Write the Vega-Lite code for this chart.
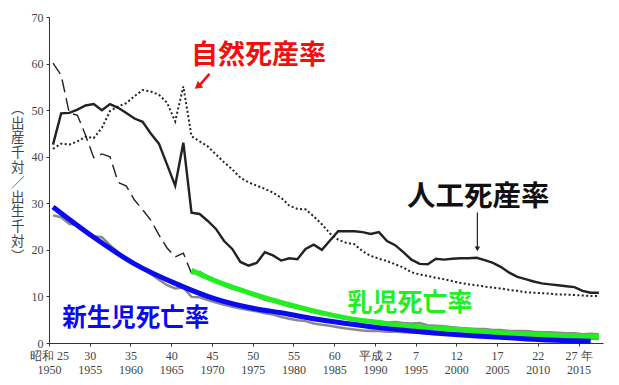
{
  "$schema": "https://vega.github.io/schema/vega-lite/v6.json",
  "width": 554,
  "height": 326,
  "autosize": {"type": "none"},
  "padding": {"left": 49, "top": 17, "right": 16, "bottom": 42},
  "background": "white",
  "config": {
    "view": {"stroke": null},
    "axis": {"grid": false, "labelFont": "Liberation Serif", "labelColor": "#444", "domainColor": "#333", "tickColor": "#333", "tickSize": 3, "domainWidth": 1, "tickWidth": 1}
  },
  "datasets": {
    "rates": [
      {"s": "natural", "year": 1950, "v": 41.7}, {"s": "natural", "year": 1951, "v": 42.8}, {"s": "natural", "year": 1952, "v": 42.6}, {"s": "natural", "year": 1953, "v": 43.3}, {"s": "natural", "year": 1954, "v": 44.3}, {"s": "natural", "year": 1955, "v": 44.0}, {"s": "natural", "year": 1956, "v": 46.2}, {"s": "natural", "year": 1957, "v": 49.8}, {"s": "natural", "year": 1958, "v": 50.8}, {"s": "natural", "year": 1959, "v": 51.5}, {"s": "natural", "year": 1960, "v": 53.0}, {"s": "natural", "year": 1961, "v": 54.3}, {"s": "natural", "year": 1962, "v": 54.0}, {"s": "natural", "year": 1963, "v": 53.3}, {"s": "natural", "year": 1964, "v": 51.6}, {"s": "natural", "year": 1965, "v": 47.6}, {"s": "natural", "year": 1966, "v": 55.1}, {"s": "natural", "year": 1967, "v": 44.4}, {"s": "natural", "year": 1968, "v": 43.3}, {"s": "natural", "year": 1969, "v": 42.2}, {"s": "natural", "year": 1970, "v": 40.5}, {"s": "natural", "year": 1971, "v": 38.8}, {"s": "natural", "year": 1972, "v": 37.3}, {"s": "natural", "year": 1973, "v": 35.5}, {"s": "natural", "year": 1974, "v": 34.5}, {"s": "natural", "year": 1975, "v": 33.8}, {"s": "natural", "year": 1976, "v": 33.1}, {"s": "natural", "year": 1977, "v": 32.3}, {"s": "natural", "year": 1978, "v": 31.2}, {"s": "natural", "year": 1979, "v": 29.5}, {"s": "natural", "year": 1980, "v": 28.8}, {"s": "natural", "year": 1981, "v": 28.7}, {"s": "natural", "year": 1982, "v": 27.2}, {"s": "natural", "year": 1983, "v": 25.5}, {"s": "natural", "year": 1984, "v": 23.5}, {"s": "natural", "year": 1985, "v": 22.2}, {"s": "natural", "year": 1986, "v": 21.5}, {"s": "natural", "year": 1987, "v": 21.2}, {"s": "natural", "year": 1988, "v": 19.7}, {"s": "natural", "year": 1989, "v": 18.7}, {"s": "natural", "year": 1990, "v": 18.1}, {"s": "natural", "year": 1991, "v": 17.6}, {"s": "natural", "year": 1992, "v": 16.9}, {"s": "natural", "year": 1993, "v": 16.2}, {"s": "natural", "year": 1994, "v": 15.2}, {"s": "natural", "year": 1995, "v": 14.7}, {"s": "natural", "year": 1996, "v": 14.4}, {"s": "natural", "year": 1997, "v": 14.0}, {"s": "natural", "year": 1998, "v": 13.7}, {"s": "natural", "year": 1999, "v": 13.3}, {"s": "natural", "year": 2000, "v": 12.9}, {"s": "natural", "year": 2001, "v": 12.6}, {"s": "natural", "year": 2002, "v": 12.4}, {"s": "natural", "year": 2003, "v": 12.1}, {"s": "natural", "year": 2004, "v": 11.9}, {"s": "natural", "year": 2005, "v": 11.7}, {"s": "natural", "year": 2006, "v": 11.4}, {"s": "natural", "year": 2007, "v": 11.2}, {"s": "natural", "year": 2008, "v": 10.9}, {"s": "natural", "year": 2009, "v": 10.8}, {"s": "natural", "year": 2010, "v": 10.7}, {"s": "natural", "year": 2011, "v": 10.6}, {"s": "natural", "year": 2012, "v": 10.4}, {"s": "natural", "year": 2013, "v": 10.4}, {"s": "natural", "year": 2014, "v": 10.3}, {"s": "natural", "year": 2015, "v": 10.2}, {"s": "natural", "year": 2016, "v": 10.1}, {"s": "natural", "year": 2017, "v": 10.1},

      {"s": "artificial", "year": 1950, "v": 42.6}, {"s": "artificial", "year": 1951, "v": 49.3}, {"s": "artificial", "year": 1952, "v": 49.4}, {"s": "artificial", "year": 1953, "v": 50.1}, {"s": "artificial", "year": 1954, "v": 51.0}, {"s": "artificial", "year": 1955, "v": 51.3}, {"s": "artificial", "year": 1956, "v": 50.0}, {"s": "artificial", "year": 1957, "v": 51.3}, {"s": "artificial", "year": 1958, "v": 50.5}, {"s": "artificial", "year": 1959, "v": 49.4}, {"s": "artificial", "year": 1960, "v": 48.2}, {"s": "artificial", "year": 1961, "v": 47.5}, {"s": "artificial", "year": 1962, "v": 45.0}, {"s": "artificial", "year": 1963, "v": 42.8}, {"s": "artificial", "year": 1964, "v": 38.3}, {"s": "artificial", "year": 1965, "v": 33.8}, {"s": "artificial", "year": 1966, "v": 43.0}, {"s": "artificial", "year": 1967, "v": 28.0}, {"s": "artificial", "year": 1968, "v": 27.7}, {"s": "artificial", "year": 1969, "v": 26.2}, {"s": "artificial", "year": 1970, "v": 24.5}, {"s": "artificial", "year": 1971, "v": 21.9}, {"s": "artificial", "year": 1972, "v": 20.2}, {"s": "artificial", "year": 1973, "v": 17.4}, {"s": "artificial", "year": 1974, "v": 16.6}, {"s": "artificial", "year": 1975, "v": 17.2}, {"s": "artificial", "year": 1976, "v": 19.5}, {"s": "artificial", "year": 1977, "v": 18.8}, {"s": "artificial", "year": 1978, "v": 17.7}, {"s": "artificial", "year": 1979, "v": 18.2}, {"s": "artificial", "year": 1980, "v": 18.0}, {"s": "artificial", "year": 1981, "v": 20.2}, {"s": "artificial", "year": 1982, "v": 21.1}, {"s": "artificial", "year": 1983, "v": 20.0}, {"s": "artificial", "year": 1984, "v": 22.0}, {"s": "artificial", "year": 1985, "v": 24.0}, {"s": "artificial", "year": 1986, "v": 24.0}, {"s": "artificial", "year": 1987, "v": 24.0}, {"s": "artificial", "year": 1988, "v": 23.8}, {"s": "artificial", "year": 1989, "v": 23.4}, {"s": "artificial", "year": 1990, "v": 23.8}, {"s": "artificial", "year": 1991, "v": 21.9}, {"s": "artificial", "year": 1992, "v": 21.0}, {"s": "artificial", "year": 1993, "v": 19.5}, {"s": "artificial", "year": 1994, "v": 17.9}, {"s": "artificial", "year": 1995, "v": 17.0}, {"s": "artificial", "year": 1996, "v": 16.9}, {"s": "artificial", "year": 1997, "v": 18.1}, {"s": "artificial", "year": 1998, "v": 17.9}, {"s": "artificial", "year": 1999, "v": 18.1}, {"s": "artificial", "year": 2000, "v": 18.2}, {"s": "artificial", "year": 2001, "v": 18.2}, {"s": "artificial", "year": 2002, "v": 18.3}, {"s": "artificial", "year": 2003, "v": 17.8}, {"s": "artificial", "year": 2004, "v": 17.2}, {"s": "artificial", "year": 2005, "v": 16.3}, {"s": "artificial", "year": 2006, "v": 15.1}, {"s": "artificial", "year": 2007, "v": 14.2}, {"s": "artificial", "year": 2008, "v": 13.7}, {"s": "artificial", "year": 2009, "v": 13.2}, {"s": "artificial", "year": 2010, "v": 12.8}, {"s": "artificial", "year": 2011, "v": 12.6}, {"s": "artificial", "year": 2012, "v": 12.4}, {"s": "artificial", "year": 2013, "v": 12.2}, {"s": "artificial", "year": 2014, "v": 12.0}, {"s": "artificial", "year": 2015, "v": 11.2}, {"s": "artificial", "year": 2016, "v": 10.8}, {"s": "artificial", "year": 2017, "v": 10.8},

      {"s": "infant_old", "year": 1950, "v": 60.1}, {"s": "infant_old", "year": 1951, "v": 57.5}, {"s": "infant_old", "year": 1952, "v": 49.4}, {"s": "infant_old", "year": 1953, "v": 48.9}, {"s": "infant_old", "year": 1954, "v": 44.6}, {"s": "infant_old", "year": 1955, "v": 39.8}, {"s": "infant_old", "year": 1956, "v": 40.6}, {"s": "infant_old", "year": 1957, "v": 40.0}, {"s": "infant_old", "year": 1958, "v": 34.5}, {"s": "infant_old", "year": 1959, "v": 33.7}, {"s": "infant_old", "year": 1960, "v": 30.7}, {"s": "infant_old", "year": 1961, "v": 28.6}, {"s": "infant_old", "year": 1962, "v": 26.4}, {"s": "infant_old", "year": 1963, "v": 23.2}, {"s": "infant_old", "year": 1964, "v": 20.4}, {"s": "infant_old", "year": 1965, "v": 18.5}, {"s": "infant_old", "year": 1966, "v": 19.3}, {"s": "infant_old", "year": 1967, "v": 14.9},

      {"s": "infant_act", "year": 1967, "v": 14.9}, {"s": "infant_act", "year": 1968, "v": 15.3}, {"s": "infant_act", "year": 1969, "v": 14.2}, {"s": "infant_act", "year": 1970, "v": 13.1}, {"s": "infant_act", "year": 1971, "v": 12.4}, {"s": "infant_act", "year": 1972, "v": 11.7}, {"s": "infant_act", "year": 1973, "v": 11.3}, {"s": "infant_act", "year": 1974, "v": 10.8}, {"s": "infant_act", "year": 1975, "v": 10.0}, {"s": "infant_act", "year": 1976, "v": 9.3}, {"s": "infant_act", "year": 1977, "v": 8.9}, {"s": "infant_act", "year": 1978, "v": 8.4}, {"s": "infant_act", "year": 1979, "v": 7.9}, {"s": "infant_act", "year": 1980, "v": 7.5}, {"s": "infant_act", "year": 1981, "v": 7.1}, {"s": "infant_act", "year": 1982, "v": 6.6}, {"s": "infant_act", "year": 1983, "v": 6.2}, {"s": "infant_act", "year": 1984, "v": 6.0}, {"s": "infant_act", "year": 1985, "v": 5.5}, {"s": "infant_act", "year": 1986, "v": 5.2}, {"s": "infant_act", "year": 1987, "v": 5.0}, {"s": "infant_act", "year": 1988, "v": 4.8}, {"s": "infant_act", "year": 1989, "v": 4.6}, {"s": "infant_act", "year": 1990, "v": 4.6}, {"s": "infant_act", "year": 1991, "v": 4.4}, {"s": "infant_act", "year": 1992, "v": 4.5}, {"s": "infant_act", "year": 1993, "v": 4.3}, {"s": "infant_act", "year": 1994, "v": 4.2}, {"s": "infant_act", "year": 1995, "v": 4.3}, {"s": "infant_act", "year": 1996, "v": 3.8}, {"s": "infant_act", "year": 1997, "v": 3.7}, {"s": "infant_act", "year": 1998, "v": 3.6}, {"s": "infant_act", "year": 1999, "v": 3.4}, {"s": "infant_act", "year": 2000, "v": 3.2}, {"s": "infant_act", "year": 2001, "v": 3.1}, {"s": "infant_act", "year": 2002, "v": 3.0}, {"s": "infant_act", "year": 2003, "v": 3.0}, {"s": "infant_act", "year": 2004, "v": 2.8}, {"s": "infant_act", "year": 2005, "v": 2.8}, {"s": "infant_act", "year": 2006, "v": 2.6}, {"s": "infant_act", "year": 2007, "v": 2.6}, {"s": "infant_act", "year": 2008, "v": 2.6}, {"s": "infant_act", "year": 2009, "v": 2.4}, {"s": "infant_act", "year": 2010, "v": 2.3}, {"s": "infant_act", "year": 2011, "v": 2.3}, {"s": "infant_act", "year": 2012, "v": 2.2}, {"s": "infant_act", "year": 2013, "v": 2.1}, {"s": "infant_act", "year": 2014, "v": 2.1}, {"s": "infant_act", "year": 2015, "v": 1.9}, {"s": "infant_act", "year": 2016, "v": 2.0}, {"s": "infant_act", "year": 2017, "v": 1.9},

      {"s": "neonatal_act", "year": 1950, "v": 27.4}, {"s": "neonatal_act", "year": 1951, "v": 27.0}, {"s": "neonatal_act", "year": 1952, "v": 25.6}, {"s": "neonatal_act", "year": 1953, "v": 25.3}, {"s": "neonatal_act", "year": 1954, "v": 24.0}, {"s": "neonatal_act", "year": 1955, "v": 22.9}, {"s": "neonatal_act", "year": 1956, "v": 22.7}, {"s": "neonatal_act", "year": 1957, "v": 21.0}, {"s": "neonatal_act", "year": 1958, "v": 19.5}, {"s": "neonatal_act", "year": 1959, "v": 18.0}, {"s": "neonatal_act", "year": 1960, "v": 17.0}, {"s": "neonatal_act", "year": 1961, "v": 16.0}, {"s": "neonatal_act", "year": 1962, "v": 14.8}, {"s": "neonatal_act", "year": 1963, "v": 13.6}, {"s": "neonatal_act", "year": 1964, "v": 12.4}, {"s": "neonatal_act", "year": 1965, "v": 11.7}, {"s": "neonatal_act", "year": 1966, "v": 11.9}, {"s": "neonatal_act", "year": 1967, "v": 9.9}, {"s": "neonatal_act", "year": 1968, "v": 9.8}, {"s": "neonatal_act", "year": 1969, "v": 9.2}, {"s": "neonatal_act", "year": 1970, "v": 8.7}, {"s": "neonatal_act", "year": 1971, "v": 8.2}, {"s": "neonatal_act", "year": 1972, "v": 7.8}, {"s": "neonatal_act", "year": 1973, "v": 7.4}, {"s": "neonatal_act", "year": 1974, "v": 7.1}, {"s": "neonatal_act", "year": 1975, "v": 6.8}, {"s": "neonatal_act", "year": 1976, "v": 6.4}, {"s": "neonatal_act", "year": 1977, "v": 6.1}, {"s": "neonatal_act", "year": 1978, "v": 5.6}, {"s": "neonatal_act", "year": 1979, "v": 5.2}, {"s": "neonatal_act", "year": 1980, "v": 4.9}, {"s": "neonatal_act", "year": 1981, "v": 4.7}, {"s": "neonatal_act", "year": 1982, "v": 4.2}, {"s": "neonatal_act", "year": 1983, "v": 3.9}, {"s": "neonatal_act", "year": 1984, "v": 3.7}, {"s": "neonatal_act", "year": 1985, "v": 3.4}, {"s": "neonatal_act", "year": 1986, "v": 3.1}, {"s": "neonatal_act", "year": 1987, "v": 2.9}, {"s": "neonatal_act", "year": 1988, "v": 2.7}, {"s": "neonatal_act", "year": 1989, "v": 2.6}, {"s": "neonatal_act", "year": 1990, "v": 2.6}, {"s": "neonatal_act", "year": 1991, "v": 2.4}, {"s": "neonatal_act", "year": 1992, "v": 2.4}, {"s": "neonatal_act", "year": 1993, "v": 2.3}, {"s": "neonatal_act", "year": 1994, "v": 2.3}, {"s": "neonatal_act", "year": 1995, "v": 2.2}, {"s": "neonatal_act", "year": 1996, "v": 2.0}, {"s": "neonatal_act", "year": 1997, "v": 1.9}, {"s": "neonatal_act", "year": 1998, "v": 2.0}, {"s": "neonatal_act", "year": 1999, "v": 1.8}, {"s": "neonatal_act", "year": 2000, "v": 1.8}, {"s": "neonatal_act", "year": 2001, "v": 1.6}, {"s": "neonatal_act", "year": 2002, "v": 1.7}, {"s": "neonatal_act", "year": 2003, "v": 1.7}, {"s": "neonatal_act", "year": 2004, "v": 1.5}, {"s": "neonatal_act", "year": 2005, "v": 1.4}, {"s": "neonatal_act", "year": 2006, "v": 1.3}, {"s": "neonatal_act", "year": 2007, "v": 1.3}, {"s": "neonatal_act", "year": 2008, "v": 1.2}, {"s": "neonatal_act", "year": 2009, "v": 1.2}, {"s": "neonatal_act", "year": 2010, "v": 1.1}, {"s": "neonatal_act", "year": 2011, "v": 1.1}, {"s": "neonatal_act", "year": 2012, "v": 1.0}, {"s": "neonatal_act", "year": 2013, "v": 1.0}, {"s": "neonatal_act", "year": 2014, "v": 0.9}, {"s": "neonatal_act", "year": 2015, "v": 0.9}, {"s": "neonatal_act", "year": 2016, "v": 0.9}, {"s": "neonatal_act", "year": 2017, "v": 0.9},

      {"s": "infant_fit", "year": 1967, "v": 15.6}, {"s": "infant_fit", "year": 1970, "v": 13.3}, {"s": "infant_fit", "year": 1973, "v": 11.4}, {"s": "infant_fit", "year": 1978, "v": 8.7}, {"s": "infant_fit", "year": 1982, "v": 6.9}, {"s": "infant_fit", "year": 1986, "v": 5.4}, {"s": "infant_fit", "year": 1990, "v": 4.4}, {"s": "infant_fit", "year": 1994, "v": 3.6}, {"s": "infant_fit", "year": 1998, "v": 3.1}, {"s": "infant_fit", "year": 2002, "v": 2.6}, {"s": "infant_fit", "year": 2006, "v": 2.1}, {"s": "infant_fit", "year": 2010, "v": 1.8}, {"s": "infant_fit", "year": 2014, "v": 1.5}, {"s": "infant_fit", "year": 2017, "v": 1.4},

      {"s": "neonatal_fit", "year": 1950, "v": 29.2}, {"s": "neonatal_fit", "year": 1955, "v": 22.7}, {"s": "neonatal_fit", "year": 1960, "v": 17.0}, {"s": "neonatal_fit", "year": 1965, "v": 12.8}, {"s": "neonatal_fit", "year": 1970, "v": 9.4}, {"s": "neonatal_fit", "year": 1975, "v": 7.3}, {"s": "neonatal_fit", "year": 1978, "v": 6.5}, {"s": "neonatal_fit", "year": 1982, "v": 5.2}, {"s": "neonatal_fit", "year": 1986, "v": 4.2}, {"s": "neonatal_fit", "year": 1990, "v": 3.3}, {"s": "neonatal_fit", "year": 1994, "v": 2.6}, {"s": "neonatal_fit", "year": 1998, "v": 2.0}, {"s": "neonatal_fit", "year": 2002, "v": 1.5}, {"s": "neonatal_fit", "year": 2006, "v": 1.1}, {"s": "neonatal_fit", "year": 2010, "v": 0.7}, {"s": "neonatal_fit", "year": 2016, "v": 0.4}
    ],
    "labels": [
      {"label": "自然死産率", "year": 1975.7, "v": 61.7, "kind": "natural"},
      {"label": "人工死産率", "year": 2002.7, "v": 31.4, "kind": "artificial"},
      {"label": "乳児死亡率", "year": 1994.3, "v": 8.5, "kind": "infant"},
      {"label": "新生児死亡率", "year": 1960.65, "v": 5.1, "kind": "neonatal"}
    ]
  },
  "layer": [
    {
      "data": {"name": "rates"},
      "transform": [{"filter": "datum.s == 'natural'"}],
      "mark": {"type": "line", "color": "#222", "strokeWidth": 2, "strokeDash": [2, 2.4], "xOffset": 4},
      "encoding": {
        "x": {
          "field": "year", "type": "quantitative",
          "scale": {"domain": [1950, 2018], "nice": false, "zero": false},
          "axis": {
            "title": null,
            "values": [1950, 1955, 1960, 1965, 1970, 1975, 1980, 1985, 1990, 1995, 2000, 2005, 2010, 2015],
            "labelExpr": "[datum.value == 1950 ? '昭和 25' : datum.value == 1990 ? '平成 2' : datum.value == 2015 ? '27 年' : datum.value < 1990 ? toString(datum.value - 1925) : toString(datum.value - 1988), toString(datum.value)]",
            "labelFontSize": 12,
            "labelLineHeight": 14,
            "labelBaseline": "top",
            "labelPadding": 4,
            "labelOverlap": false,
            "labelFlush": false
          }
        },
        "y": {
          "field": "v", "type": "quantitative",
          "scale": {"domain": [0, 70], "nice": false},
          "axis": {
            "values": [0, 5, 10, 15, 20, 25, 30, 35, 40, 45, 50, 55, 60, 65, 70],
            "labelExpr": "datum.value % 10 == 0 ? datum.label : ''",
            "labelFontSize": 12,
            "labelPadding": 3,
            "title": null
          }
        }
      }
    },
    {
      "data": {"name": "rates"},
      "transform": [{"filter": "datum.s == 'infant_old'"}],
      "mark": {"type": "line", "color": "#222", "strokeWidth": 1.4, "strokeDash": [13, 6], "xOffset": 4},
      "encoding": {"x": {"field": "year", "type": "quantitative"}, "y": {"field": "v", "type": "quantitative"}}
    },
    {
      "data": {"name": "rates"},
      "transform": [{"filter": "datum.s == 'artificial'"}],
      "mark": {"type": "line", "color": "#222", "strokeWidth": 2.4, "xOffset": 4},
      "encoding": {"x": {"field": "year", "type": "quantitative"}, "y": {"field": "v", "type": "quantitative"}}
    },
    {
      "data": {"name": "rates"},
      "transform": [{"filter": "datum.s == 'neonatal_act'"}],
      "mark": {"type": "line", "color": "#8a8a8a", "strokeWidth": 2.5, "xOffset": 4},
      "encoding": {"x": {"field": "year", "type": "quantitative"}, "y": {"field": "v", "type": "quantitative"}}
    },
    {
      "data": {"name": "rates"},
      "transform": [{"filter": "datum.s == 'infant_act'"}],
      "mark": {"type": "line", "color": "#8a8a8a", "strokeWidth": 2.5, "xOffset": 4},
      "encoding": {"x": {"field": "year", "type": "quantitative"}, "y": {"field": "v", "type": "quantitative"}}
    },
    {
      "data": {"name": "rates"},
      "transform": [{"filter": "datum.s == 'infant_fit'"}],
      "mark": {"type": "line", "color": "#22ee22", "strokeWidth": 5, "interpolate": "monotone", "xOffset": 4},
      "encoding": {"x": {"field": "year", "type": "quantitative"}, "y": {"field": "v", "type": "quantitative"}}
    },
    {
      "data": {"name": "rates"},
      "transform": [{"filter": "datum.s == 'neonatal_fit'"}],
      "mark": {"type": "line", "color": "#0a0af0", "strokeWidth": 5, "interpolate": "monotone", "xOffset": 4},
      "encoding": {"x": {"field": "year", "type": "quantitative"}, "y": {"field": "v", "type": "quantitative"}}
    },
    {
      "data": {"values": [{"a": 1}]},
      "mark": {"type": "rule", "color": "#f01010", "strokeWidth": 2.5},
      "encoding": {"x": {"datum": 1969.7, "type": "quantitative"}, "y": {"datum": 57.8, "type": "quantitative"}, "x2": {"datum": 1968.3}, "y2": {"datum": 55.0}}
    },
    {
      "data": {"values": [{"a": 1}]},
      "mark": {"type": "point", "shape": "triangle-up", "filled": true, "color": "#f01010", "opacity": 1, "size": 75, "angle": 231},
      "encoding": {"x": {"datum": 1968.25, "type": "quantitative"}, "y": {"datum": 55.1, "type": "quantitative"}}
    },
    {
      "data": {"values": [{"a": 1}]},
      "mark": {"type": "rule", "color": "#222", "strokeWidth": 1.2},
      "encoding": {"x": {"datum": 2002.58, "type": "quantitative"}, "y": {"datum": 28.0, "type": "quantitative"}, "y2": {"datum": 20.6}}
    },
    {
      "data": {"values": [{"a": 1}]},
      "mark": {"type": "point", "shape": "triangle-down", "filled": true, "color": "#222", "opacity": 1, "size": 30},
      "encoding": {"x": {"datum": 2002.58, "type": "quantitative"}, "y": {"datum": 20.2, "type": "quantitative"}}
    },
    {
      "data": {"values": [{"a": 1}]},
      "mark": {"type": "text", "text": ["︵", "出", "産", "千", "対", "／", "出", "生", "千", "対", "︶"], "font": "Noto Sans CJK JP", "fontSize": 13.5, "lineHeight": 14.8, "color": "#444", "align": "center", "baseline": "top"},
      "encoding": {"x": {"datum": 1946.15, "type": "quantitative"}, "y": {"datum": 51.8, "type": "quantitative"}}
    },
    {
      "data": {"name": "labels"},
      "transform": [{"filter": "datum.kind == 'natural'"}],
      "mark": {"type": "text", "font": "Noto Sans CJK JP", "fontWeight": "bold", "fontSize": 27, "color": "#f01010", "align": "center", "baseline": "middle"},
      "encoding": {"x": {"field": "year", "type": "quantitative"}, "y": {"field": "v", "type": "quantitative"}, "text": {"field": "label"}}
    },
    {
      "data": {"name": "labels"},
      "transform": [{"filter": "datum.kind == 'artificial'"}],
      "mark": {"type": "text", "font": "Noto Sans CJK JP", "fontWeight": "bold", "fontSize": 28.5, "color": "#111", "align": "center", "baseline": "middle"},
      "encoding": {"x": {"field": "year", "type": "quantitative"}, "y": {"field": "v", "type": "quantitative"}, "text": {"field": "label"}}
    },
    {
      "data": {"name": "labels"},
      "transform": [{"filter": "datum.kind == 'infant'"}],
      "mark": {"type": "text", "font": "Noto Sans CJK JP", "fontWeight": "bold", "fontSize": 25, "color": "#22ee22", "align": "center", "baseline": "middle"},
      "encoding": {"x": {"field": "year", "type": "quantitative"}, "y": {"field": "v", "type": "quantitative"}, "text": {"field": "label"}}
    },
    {
      "data": {"name": "labels"},
      "transform": [{"filter": "datum.kind == 'neonatal'"}],
      "mark": {"type": "text", "font": "Noto Sans CJK JP", "fontWeight": "bold", "fontSize": 24.5, "color": "#0a0af0", "align": "center", "baseline": "middle"},
      "encoding": {"x": {"field": "year", "type": "quantitative"}, "y": {"field": "v", "type": "quantitative"}, "text": {"field": "label"}}
    }
  ]
}
